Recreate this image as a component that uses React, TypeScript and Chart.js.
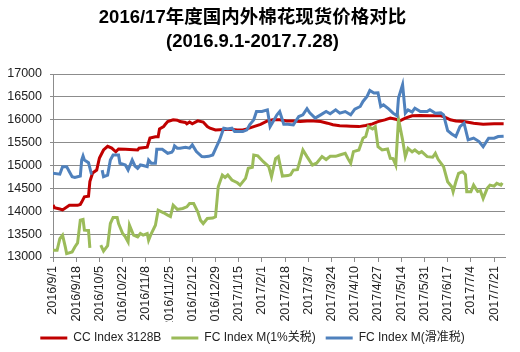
import React, { useEffect, useRef } from "react";
import { Chart, registerables } from "chart.js";

Chart.register(...registerables);

const titleLines = ["2016/17年度国内外棉花现货价格对比", "(2016.9.1-2017.7.28)"];
const seriesNames = ["CC Index 3128B", "FC Index M(1%关税)", "FC Index M(滑准税)"];
const seriesColors = ["#C00000", "#9BBB59", "#4F81BD"];

// x values are days since 2016/9/1
const xTickLabels = [
  "2016/9/1", "2016/9/18", "2016/10/5", "2016/10/22", "2016/11/8", "2016/11/25", "2016/12/12",
  "2016/12/29", "2017/1/15", "2017/2/1", "2017/2/18", "2017/3/7", "2017/3/24", "2017/4/10",
  "2017/4/27", "2017/5/14", "2017/5/31", "2017/6/17", "2017/7/4", "2017/7/21",
];
const yTicks = [13000, 13500, 14000, 14500, 15000, 15500, 16000, 16500, 17000];

const ccDays = [0,1,5,7,12,18,20,21,23,26,27,29,32,34,37,40,43,46,48,53,62,63,69,71,75,77,78,81,82,84,88,91,93,97,98,100,102,106,110,113,115,119,122,130,135,139,142,147,152,157,161,166,171,176,181,186,191,196,201,205,210,215,218,224,229,234,238,243,247,251,254,258,263,269,276,284,287,291,295,301,308,315,323,330];
const ccValues = [14135,14080,14050,14030,14130,14130,14150,14200,14316,14330,14650,14835,14900,15165,15340,15420,15380,15300,15360,15355,15340,15377,15400,15600,15630,15630,15800,15850,15890,15960,16000,15990,15960,15940,15910,15950,15910,15975,15950,15850,15815,15778,15780,15790,15778,15778,15800,15850,15900,15975,15998,16000,15975,15975,15960,15975,15975,15960,15925,15890,15870,15866,15860,15850,15873,15910,15960,15998,16035,16013,15975,16035,16085,16092,16085,16085,16057,15998,15975,15960,15925,15903,15910,15910];

const fc1Days = [0,3,5,7,9,10,14,16,18,20,22,23,26,27,32,35,37,40,42,44,47,48,51,53,55,56,59,62,64,66,69,70,72,75,77,81,84,86,88,91,95,98,100,103,106,108,110,113,117,119,121,124,126,128,131,135,137,141,143,146,147,150,154,158,160,163,165,168,172,174,176,179,181,183,186,190,193,197,200,203,207,210,214,216,218,220,224,227,229,231,234,236,238,241,245,247,249,251,253,256,258,260,263,265,268,270,274,278,280,282,286,289,292,293,295,297,300,302,303,306,308,311,313,315,318,320,323,325,328,329];
const fc1Values = [13147,13147,13400,13476,13220,13075,13110,13220,13307,13805,13820,13586,13580,13200,null,13260,13130,13250,13732,13864,13864,13732,13513,13439,13330,13695,13476,13439,13513,13480,13513,13366,13513,13695,14024,13966,13915,13886,14130,14040,14060,14096,14170,14170,13988,13805,13732,13842,13850,13878,14536,14792,14740,14792,14682,14623,14572,14719,14938,14960,15230,15210,15084,14975,14755,15150,15194,14770,14780,14800,14900,14910,15120,15340,15194,15011,15050,15194,15130,15200,15200,15230,15267,15150,15048,15304,15340,15596,15632,15850,15800,15850,15413,15340,15360,15158,15150,15011,16013,15560,15194,15377,15300,15340,15270,15304,15194,15180,15267,15136,14975,14645,14536,14426,14645,14829,14865,14800,14426,14426,14572,14430,14450,14280,14500,14572,14550,14610,14572,14620];

const fcsDays = [0,5,7,10,12,14,16,20,21,22,23,26,28,29,32,36,37,40,42,44,48,49,53,55,58,60,62,64,66,69,70,72,75,76,80,84,87,88,89,91,93,97,100,102,105,109,111,114,117,120,122,125,128,131,133,139,142,144,147,149,153,157,159,161,164,166,169,172,176,180,183,186,188,192,196,200,203,207,210,214,218,221,225,227,230,232,235,238,240,242,246,249,252,253,256,258,260,263,265,269,274,276,280,284,286,289,292,295,298,301,304,308,312,315,319,323,326,330];
const fcsValues = [14829,14810,14975,14975,14865,14755,14740,14770,15120,15208,15120,15061,14829,14829,null,14900,14755,14790,15120,15230,15230,15048,15011,14900,15120,14990,14938,15011,15000,14975,15120,15048,15048,15355,15355,15267,15290,15330,15428,15377,15377,15399,15380,15450,15304,15194,15190,15200,15230,15428,15560,15816,15800,15816,15742,15742,15778,15889,15998,16180,16180,16217,15850,15950,16107,16180,15900,15900,15888,16070,16107,16240,16150,16035,16107,16180,16130,16217,16144,16180,16107,16231,16290,16400,16510,16640,16583,16590,16290,16327,16231,16144,16085,16474,16766,16144,16217,16170,16253,16180,16180,16217,16144,16150,16107,15763,15690,15632,15850,15925,15560,15600,15523,15413,15596,15596,15632,15640];

const DAY0 = Date.UTC(2016, 8, 1);
const labelToDay = (s: string) => {
  const [y, m, d] = s.split("/").map(Number);
  return Math.round((Date.UTC(y, m - 1, d) - DAY0) / 86400000);
};
const xTickDays = xTickLabels.map(labelToDay);

const toPoints = (days: number[], vals: (number | null)[]) =>
  days.map((d, i) => ({ x: d, y: vals[i] }));

const FONT = '"Liberation Sans", "Noto Sans CJK SC", sans-serif';
const GRID = "#8c8c8c";

export default function App() {
  const ref = useRef<HTMLCanvasElement | null>(null);
  useEffect(() => {
    if (!ref.current) return;
    const mk = (i: number, data: any[], order: number) => ({
      label: seriesNames[i],
      data,
      borderColor: seriesColors[i],
      backgroundColor: seriesColors[i],
      borderWidth: 3,
      pointRadius: 0,
      tension: 0,
      spanGaps: false,
      order,
    });
    const chart = new Chart(ref.current, {
      type: "line",
      data: {
        datasets: [
          mk(0, toPoints(ccDays, ccValues), 3),
          mk(1, toPoints(fc1Days, fc1Values), 2),
          mk(2, toPoints(fcsDays, fcsValues), 1),
        ],
      },
      options: {
        animation: false,
        responsive: false,
        layout: { padding: { left: 0, right: 15, top: 0, bottom: -2 } },
        plugins: {
          tooltip: { enabled: false },
          title: {
            display: true,
            text: titleLines,
            color: "#000",
            font: { family: FONT, size: 18.5, weight: "bold", lineHeight: 24 / 18.5 },
            padding: { top: 6, bottom: 20 },
          },
          legend: {
            position: "bottom",
            labels: {
              color: "#222",
              font: { family: FONT, size: 12 },
              boxWidth: 27,
              boxHeight: 3,
              padding: 10,
              sort: (a: any, b: any) => a.datasetIndex - b.datasetIndex,
              generateLabels: (c: any) =>
                (Chart.defaults.plugins.legend.labels as any)
                  .generateLabels(c)
                  .map((l: any) => ({ ...l, lineWidth: 0 })),
            },
          },
        },
        scales: {
          x: {
            type: "linear",
            min: 0,
            max: 331,
            afterFit: (s: any) => { s.height = 65; },
            afterBuildTicks: (s: any) => { s.ticks = xTickDays.map((v) => ({ value: v })); },
            grid: { drawOnChartArea: false, drawTicks: true, tickLength: 5, color: GRID },
            border: { display: true, color: GRID, width: 1 },
            ticks: {
              autoSkip: false,
              maxRotation: 90,
              minRotation: 90,
              padding: 4,
              color: "#222",
              font: { family: FONT, size: 12.5 },
              callback: (v: any) => {
                const i = xTickDays.indexOf(Number(v));
                return i >= 0 ? xTickLabels[i] : "";
              },
            },
          },
          y: {
            min: yTicks[0],
            max: yTicks[yTicks.length - 1],
            afterFit: (s: any) => { s.width = 53; },
            afterBuildTicks: (s: any) => { s.ticks = yTicks.map((v) => ({ value: v })); },
            grid: { color: GRID, lineWidth: 1, tickLength: 3 },
            border: { display: true, color: GRID, width: 1 },
            ticks: {
              padding: 8,
              color: "#222",
              font: { family: FONT, size: 12.5 },
              callback: (v: any) => String(v),
            },
          },
        },
      } as any,
    });
    return () => chart.destroy();
  }, []);
  return (
    <div style={{ position: "absolute", left: 0, top: 0, width: 520, height: 352, background: "#fff" }}>
      <canvas ref={ref} width={520} height={352} style={{ display: "block" }} />
    </div>
  );
}
